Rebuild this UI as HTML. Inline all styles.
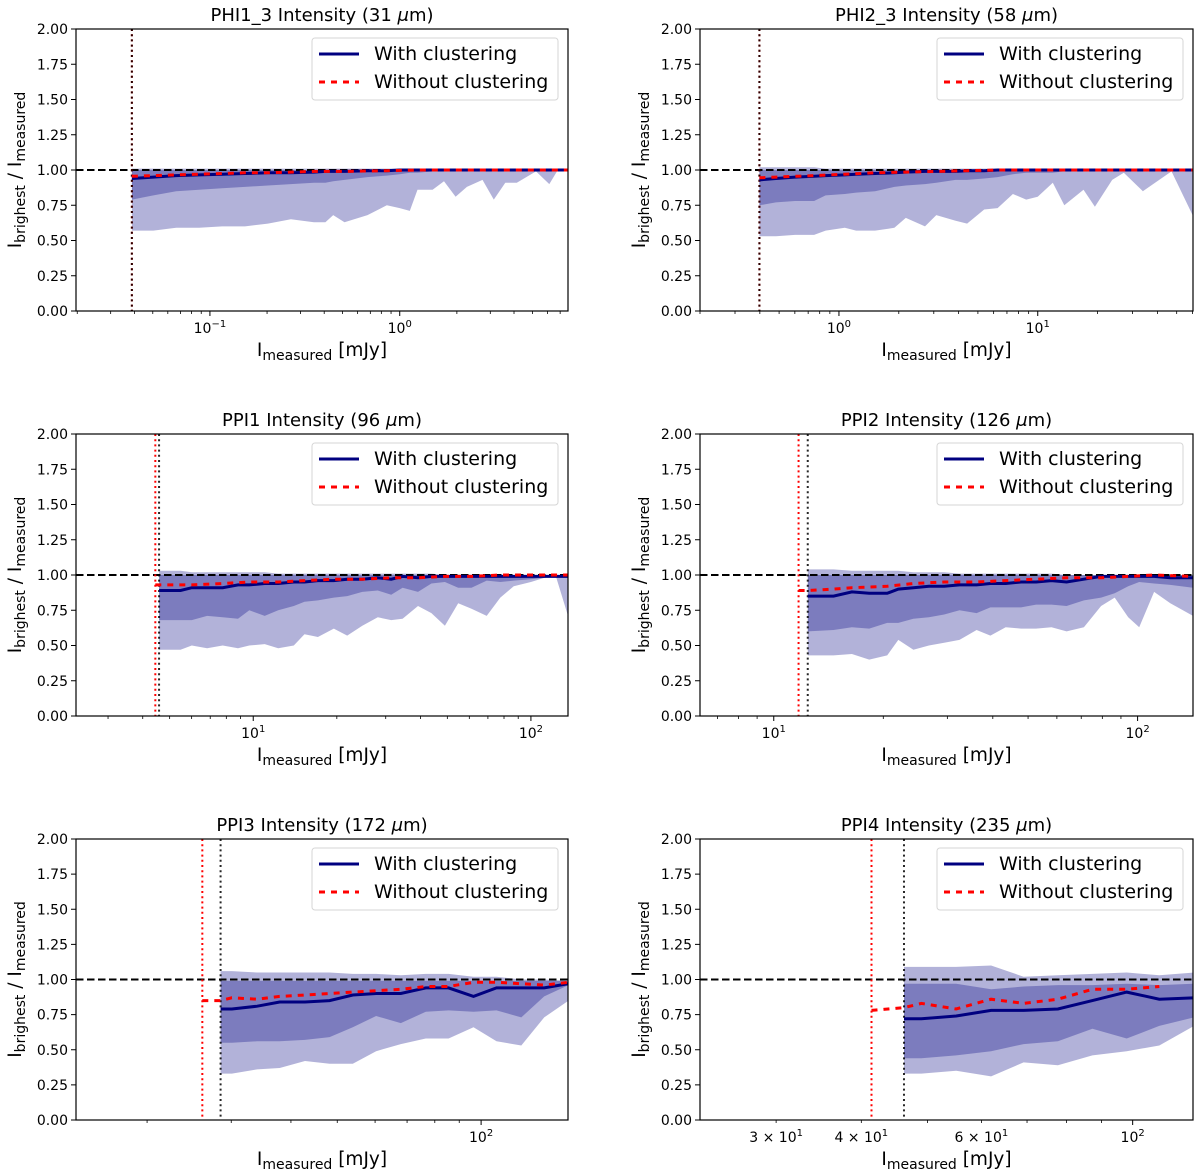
<!DOCTYPE html>
<html><head><meta charset="utf-8"><style>
html,body{margin:0;padding:0;background:#fff;}
svg{display:block;font-family:"DejaVu Sans","Liberation Sans",sans-serif;}
</style></head><body>
<svg id="fig" width="1200" height="1175" viewBox="0 0 1200 1175" xmlns="http://www.w3.org/2000/svg"></svg>
<script>
// ---------- Panel 1: PHI1_3 ----------
const p1X=[0.0388,0.0504,0.0664,0.0877,0.116,0.153,0.202,0.267,0.353,0.406,0.446,0.512,0.676,0.855,1.0,1.13,1.24,1.49,1.71,1.97,2.26,2.73,3.13,3.60,4.14,5.22,6.14,6.74,7.67];
const p1LightLo=[.57,.57,.59,.59,.60,.60,.62,.65,.63,.63,.68,.63,.68,.75,.73,.71,.86,.86,.92,.81,.88,.93,.79,.91,.91,.99,.90,.99,1.0];
const p1LightHi=[1.01,1.01,1.01,1.01,1.01,1.01,1.01,1.01,1.01,1.01,1.01,1.01,1.01,1.01,1.01,1.01,1.01,1.01,1.01,1.01,1.01,1.01,1.01,1.01,1.01,1.01,1.01,1.01,1.01];
const p1DarkLo=[.79,.82,.85,.86,.87,.88,.89,.90,.91,.91,.92,.93,.95,.96,.97,.98,.98,.99,.99,.99,1,1,1,1,1,1,1,1,1];
const p1DarkHi=[1,1,1,1,1,1,1,1,1,1,1,1,1,1,1,1,1,1,1,1,1,1,1,1,1,1,1,1,1];
const p1Med=[.94,.95,.96,.965,.97,.975,.98,.98,.985,.99,.99,.99,.995,.995,1,1,1,1,1,1,1,1,1,1,1,1,1,1,1];
const p1NoclX=[0.0388,0.0504,0.0664,0.0877,0.116,0.153,0.202,0.267,0.353,0.512,0.855,1.24,1.97,3.13,5.22,7.67];
const p1Nocl=[.955,.96,.965,.97,.975,.98,.98,.985,.99,.99,.995,1,1,1,1,1];
const p1Lim=[0.0388,0.0388];
// ---------- Panel 2: PHI2_3 ----------
const p2X=[0.398,0.482,0.601,0.750,0.857,1.07,1.22,1.52,1.90,2.17,2.71,3.09,3.86,4.41,5.38,6.28,7.50,8.75,10,11.9,13.6,17.0,19.4,23.7,27.1,33.8,47.1,60.1];
const p2LightLo=[.53,.53,.54,.54,.57,.59,.57,.57,.59,.66,.60,.68,.64,.62,.72,.73,.83,.79,.81,.91,.75,.86,.74,.93,.98,.85,.99,.68];
const p2LightHi=[1.02,1.02,1.02,1.02,1.01,1.01,1.01,1.01,1.01,1.01,1.01,1.01,1.01,1.01,1.01,1.01,1.01,1.01,1.01,1.01,1.01,1.01,1.01,1.01,1.01,1.01,1.01,1.01];
const p2DarkLo=[.75,.77,.78,.78,.82,.83,.84,.85,.88,.89,.90,.91,.93,.93,.94,.95,.97,.98,.98,.98,.99,.99,.99,.99,.99,.99,.99,.99];
const p2DarkHi=[1,1,1,1,1,1,1,1,1,1,1,1,1,1,1,1,1,1,1,1,1,1,1,1,1,1,1,1];
const p2Med=[.93,.94,.95,.955,.96,.965,.97,.975,.98,.985,.99,.99,.99,.995,.995,1,1,1,1,1,1,1,1,1,1,1,1,1];
const p2NoclX=[0.398,0.482,0.601,0.750,1.07,1.52,2.17,3.09,4.41,6.28,10,17.0,27.1,60.1];
const p2Nocl=[.945,.95,.955,.96,.97,.98,.985,.99,.995,1,1,1,1,1];
const p2Lim=[0.398,0.398];
// ---------- Panel 3: PPI1 ----------
const p3X=[4.58,5.47,6.01,6.82,7.76,8.81,9.68,11.0,12.3,14.0,15.3,17.1,19.5,21.8,24.7,28.1,31.4,34.5,39.2,43.8,49.0,54.7,61.1,69.3,77.6,86.7,100,112,123,136];
const p3LightLo=[.47,.47,.50,.48,.50,.48,.50,.51,.48,.50,.58,.56,.62,.57,.64,.70,.68,.69,.78,.73,.64,.80,.76,.71,.84,.92,.95,.98,.99,.71];
const p3LightHi=[1.03,1.03,1.02,1.02,1.02,1.02,1.02,1.02,1.01,1.01,1.01,1.01,1.01,1.01,1.01,1.01,1.01,1.01,1.01,1.01,1.0,1.0,1.0,1.0,1.0,1.0,1.0,1.0,1.0,1.0];
const p3DarkLo=[.68,.68,.68,.71,.70,.69,.75,.71,.75,.78,.81,.82,.84,.85,.88,.89,.86,.91,.88,.94,.95,.91,.91,.96,.95,.96,.97,.98,.99,.99];
const p3DarkHi=[1,1,1,1,1,1,1,1,1,1,1,1,1,1,1,1,1,1,1,1,1,1,1,1,1,1,1,1,1,1];
const p3Med=[.89,.89,.91,.91,.91,.93,.93,.94,.94,.95,.95,.96,.96,.97,.97,.98,.97,.99,.98,.99,.99,.99,.99,.99,.99,.99,.99,.99,.99,.99];
const p3NoclX=[4.44,4.58,6.01,7.76,9.68,12.3,15.3,19.5,24.7,31.4,39.2,49.0,61.1,77.6,100,123,136];
const p3Nocl=[.93,.93,.93,.94,.95,.95,.96,.97,.97,.98,.98,.99,.99,1,1,1,1];
const p3Lim=[4.44,4.58];
// ---------- Panel 4: PPI2 ----------
const p4X=[12.4,14.6,16.4,18.3,20.5,22.0,24.2,26.7,29.4,32.4,36.1,39.4,43.4,47.8,52.6,58.0,63.8,71.2,79.4,86.5,94.2,101,111,123,142];
const p4LightLo=[.43,.43,.44,.40,.43,.54,.47,.50,.52,.54,.61,.57,.63,.62,.62,.63,.60,.63,.78,.84,.70,.63,.88,.80,.71];
const p4LightHi=[1.04,1.04,1.03,1.03,1.03,1.03,1.02,1.02,1.02,1.01,1.01,1.01,1.01,1.01,1.01,1.01,1.0,1.0,1.0,1.0,1.0,1.0,1.0,1.0,1.0];
const p4DarkLo=[.60,.61,.63,.62,.66,.66,.69,.70,.72,.75,.73,.77,.77,.77,.79,.79,.78,.82,.84,.87,.92,.95,.94,.93,.91];
const p4DarkHi=[1,1,1,1,1,1,1,1,1,1,1,1,1,1,1,1,1,1,1,1,1,1,1,1,1];
const p4Med=[.85,.85,.88,.87,.87,.90,.91,.92,.92,.93,.93,.94,.94,.95,.95,.96,.95,.97,.99,.99,.99,.99,.99,.98,.98];
const p4NoclX=[11.7,12.4,14.6,16.4,20.5,24.2,29.4,36.1,43.4,52.6,63.8,79.4,94.2,111,142];
const p4Nocl=[.89,.89,.90,.91,.92,.94,.95,.95,.96,.97,.98,.98,.99,1.0,.99];
const p4Lim=[11.7,12.4];
// ---------- Panel 5: PPI3 ----------
const p5X=[28.5,30.1,34.0,37.9,42.8,48.2,53.9,60.3,67.9,76.6,85.5,96.4,107.7,121.4,135.5,152.4];
const p5LightLo=[.33,.33,.36,.37,.42,.40,.40,.49,.54,.58,.58,.66,.56,.53,.73,.85];
const p5LightHi=[1.06,1.06,1.05,1.05,1.05,1.05,1.04,1.04,1.03,1.04,1.04,1.02,1.02,1.00,1.00,.99];
const p5DarkLo=[.55,.55,.56,.56,.57,.59,.66,.74,.69,.77,.78,.77,.78,.73,.88,.96];
const p5DarkHi=[.99,.99,.99,.99,.99,.99,.99,.99,.99,.99,.99,.99,.99,.99,.99,.99];
const p5Med=[.79,.79,.81,.84,.84,.85,.89,.90,.90,.94,.94,.88,.94,.94,.94,.97];
const p5NoclX=[26.1,28.5,30.1,34.0,37.9,42.8,48.2,53.9,60.3,67.9,76.6,85.5,96.4,107.7,121.4,135.5,152.4];
const p5Nocl=[.85,.85,.87,.86,.88,.89,.90,.91,.92,.93,.95,.95,.98,.98,.97,.96,.98];
const p5Lim=[26.1,28.5];
// ---------- Panel 6: PPI4 ----------
const p6X=[46.2,49.0,55.1,62.0,69.2,77.7,87.3,98.0,109.4,123];
const p6LightLo=[.33,.33,.35,.31,.41,.39,.46,.49,.53,.67];
const p6LightHi=[1.09,1.09,1.09,1.10,1.02,1.03,1.04,1.05,1.03,1.05];
const p6DarkLo=[.44,.44,.46,.49,.54,.56,.65,.58,.67,.73];
const p6DarkHi=[.97,.97,.97,.93,.95,.96,.96,.97,.96,.97];
const p6Med=[.72,.72,.74,.78,.78,.79,.85,.91,.86,.87];
const p6NoclX=[41.4,46.2,49.0,55.1,62.0,69.2,77.7,87.3,98.0,109.4];
const p6Nocl=[.78,.80,.83,.79,.86,.83,.86,.93,.93,.95];
const p6Lim=[41.4,46.2];

const yTicks=[0,0.25,0.5,0.75,1.0,1.25,1.5,1.75,2.0];

const NS="http://www.w3.org/2000/svg";
const svg=document.getElementById('fig');
function el(tag,attrs,parent){const e=document.createElementNS(NS,tag);for(const k in attrs)e.setAttribute(k,attrs[k]);(parent||svg).appendChild(e);return e;}

const panels=[
 {key:'phi1-3',title:'PHI1_3 Intensity (31 ',L:76,R:568,T:29,B:311,xmin:0.0197,xmax:7.7,labels:[[0.1,'10','−1'],[1,'10','0']],
  X:p1X,LL:p1LightLo,LH:p1LightHi,DL:p1DarkLo,DH:p1DarkHi,M:p1Med,NX:p1NoclX,N:p1Nocl,lim:p1Lim},
 {key:'phi2-3',title:'PHI2_3 Intensity (58 ',L:700,R:1193,T:29,B:311,xmin:0.2,xmax:60.4,labels:[[1,'10','0'],[10,'10','1']],
  X:p2X,LL:p2LightLo,LH:p2LightHi,DL:p2DarkLo,DH:p2DarkHi,M:p2Med,NX:p2NoclX,N:p2Nocl,lim:p2Lim},
 {key:'ppi1',title:'PPI1 Intensity (96 ',L:76,R:568,T:434,B:716,xmin:2.30,xmax:136,labels:[[10,'10','1'],[100,'10','2']],
  X:p3X,LL:p3LightLo,LH:p3LightHi,DL:p3DarkLo,DH:p3DarkHi,M:p3Med,NX:p3NoclX,N:p3Nocl,lim:p3Lim},
 {key:'ppi2',title:'PPI2 Intensity (126 ',L:700,R:1193,T:434,B:716,xmin:6.27,xmax:142,labels:[[10,'10','1'],[100,'10','2']],
  X:p4X,LL:p4LightLo,LH:p4LightHi,DL:p4DarkLo,DH:p4DarkHi,M:p4Med,NX:p4NoclX,N:p4Nocl,lim:p4Lim},
 {key:'ppi3',title:'PPI3 Intensity (172 ',L:76,R:568,T:839,B:1120,xmin:14.2,xmax:152,labels:[[100,'10','2']],
  X:p5X,LL:p5LightLo,LH:p5LightHi,DL:p5DarkLo,DH:p5DarkHi,M:p5Med,NX:p5NoclX,N:p5Nocl,lim:p5Lim},
 {key:'ppi4',title:'PPI4 Intensity (235 ',L:700,R:1193,T:839,B:1120,xmin:23.2,xmax:122.6,labels:[[30,'3 × 10','1'],[40,'4 × 10','1'],[60,'6 × 10','1'],[100,'10','2']],
  X:p6X,LL:p6LightLo,LH:p6LightHi,DL:p6DarkLo,DH:p6DarkHi,M:p6Med,NX:p6NoclX,N:p6Nocl,lim:p6Lim}
];

panels.forEach(p=>{
  const g=el('g',{});
  
  
  const lx=Math.log10(p.xmin), hx=Math.log10(p.xmax);
  const sx=v=>p.L+(Math.log10(v)-lx)/(hx-lx)*(p.R-p.L);
  const sy=v=>p.B-v/2*(p.B-p.T);
  const clipId='clip-'+p.key;
  const cp=el('clipPath',{id:clipId},g);
  el('rect',{x:p.L,y:p.T,width:p.R-p.L,height:p.B-p.T},cp);
  const plot=el('g',{'clip-path':'url(#'+clipId+')'},g);
  function band(lo,hi,name){
    let d='M'+p.X.map((x,i)=>sx(x).toFixed(1)+','+sy(hi[i]).toFixed(1)).join('L');
    for(let i=p.X.length-1;i>=0;i--) d+='L'+sx(p.X[i]).toFixed(1)+','+sy(lo[i]).toFixed(1);
    const b=el('path',{d:d+'Z',fill:'#000080','fill-opacity':'0.3',stroke:'none'},plot);
    
    
  }
  band(p.LL,p.LH,'min-max-band');
  band(p.DL,p.DH,'quartile-band');
  const ref=el('line',{x1:p.L,x2:p.R,y1:sy(1),y2:sy(1),stroke:'#000','stroke-width':2,'stroke-dasharray':'7.5,3.5'},plot);
  
  
  const lr=el('line',{x1:sx(p.lim[0]),x2:sx(p.lim[0]),y1:p.T,y2:p.B,stroke:'#ff0000','stroke-width':2,'stroke-dasharray':'2,3.2'},plot);
  
  
  const lb=el('line',{x1:sx(p.lim[1]),x2:sx(p.lim[1]),y1:p.T,y2:p.B,stroke:'#000','stroke-width':2,'stroke-dasharray':'2,3.2','stroke-opacity':0.85},plot);
  
  
  const m=el('polyline',{points:p.X.map((x,i)=>sx(x).toFixed(1)+','+sy(p.M[i]).toFixed(1)).join(' '),fill:'none',stroke:'#000080','stroke-width':3},plot);
  
  
  const n=el('polyline',{points:p.NX.map((x,i)=>sx(x).toFixed(1)+','+sy(p.N[i]).toFixed(1)).join(' '),fill:'none',stroke:'#ff0000','stroke-width':3,'stroke-dasharray':'6,6'},plot);
  
  
  const fr=el('rect',{x:p.L,y:p.T,width:p.R-p.L,height:p.B-p.T,fill:'none',stroke:'#000','stroke-width':1.2},g);
  
  
  yTicks.forEach(t=>{
    el('line',{x1:p.L-5,x2:p.L,y1:sy(t),y2:sy(t),stroke:'#000','stroke-width':1},g);
    const tx=el('text',{x:p.L-8,y:sy(t)+5,'text-anchor':'end','font-size':14,fill:'#000'},g);
    tx.textContent=t.toFixed(2);
    
    
  });
  for(let e=Math.floor(lx)-1;e<=Math.ceil(hx);e++){
    for(let k=1;k<=9;k++){
      const v=k*Math.pow(10,e);
      if(v<p.xmin||v>p.xmax) continue;
      const len=k===1?5:3;
      el('line',{x1:sx(v),x2:sx(v),y1:p.B,y2:p.B+len,stroke:'#000','stroke-width':k===1?1:0.8},g);
    }
  }
  p.labels.forEach(l=>{
    const tx=el('text',{x:sx(l[0]),y:p.B+22,'text-anchor':'middle','font-size':14,fill:'#000'},g);
    
    
    tx.appendChild(document.createTextNode(l[1]));
    const s=el('tspan',{dy:-6,'font-size':10},tx); s.textContent=l[2];
  });
  const cx=(p.L+p.R)/2;
  const ti=el('text',{x:cx,y:p.T-8,'text-anchor':'middle','font-size':18,fill:'#000'},g);
  
  
  ti.appendChild(document.createTextNode(p.title));
  const mu=el('tspan',{'font-style':'italic'},ti); mu.textContent='μ';
  const rest=el('tspan',{},ti); rest.textContent='m)';
  const xl=el('text',{x:cx,y:p.B+45,'text-anchor':'middle','font-size':18.5,fill:'#000'},g);
  
  
  xl.appendChild(document.createTextNode('I'));
  const s1=el('tspan',{dy:4,'font-size':14},xl); s1.textContent='measured';
  const s2=el('tspan',{dy:-4},xl); s2.textContent=' [mJy]';
  const yc=(p.T+p.B)/2, yx=p.L-55;
  const yl=el('text',{x:0,y:0,'text-anchor':'middle','font-size':18.5,fill:'#000',transform:'translate('+yx+','+yc+') rotate(-90)'},g);
  
  
  yl.appendChild(document.createTextNode('I'));
  const a1=el('tspan',{dy:4,'font-size':14},yl); a1.textContent='brighest';
  const a2=el('tspan',{dy:-4},yl); a2.textContent=' / I';
  const a3=el('tspan',{dy:4,'font-size':14},yl); a3.textContent='measured';
  const lg=el('g',{},g);
  
  
  const bx=p.R-256, by=p.T+9;
  el('rect',{x:bx,y:by,width:246,height:62,rx:3,fill:'#fff','fill-opacity':0.85,stroke:'#d6d6d6','stroke-width':1},lg);
  const e1=el('line',{x1:bx+7,x2:bx+47,y1:by+16,y2:by+16,stroke:'#000080','stroke-width':3},lg);
  
  
  const t1=el('text',{x:bx+62,y:by+22,'font-size':19,fill:'#000'},lg); t1.textContent='With clustering';
  const e2=el('line',{x1:bx+7,x2:bx+47,y1:by+44,y2:by+44,stroke:'#ff0000','stroke-width':3,'stroke-dasharray':'6,6'},lg);
  
  
  const t2=el('text',{x:bx+62,y:by+50,'font-size':19,fill:'#000'},lg); t2.textContent='Without clustering';
});
</script>
</body></html>
